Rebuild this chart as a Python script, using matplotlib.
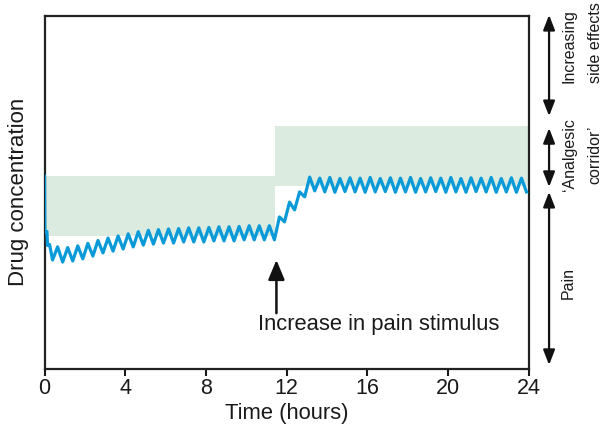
import numpy as np
import matplotlib
matplotlib.use("Agg")
import matplotlib.pyplot as plt

plt.rcParams['font.family'] = ['Liberation Sans', 'DejaVu Sans']

# analgesic corridor (green band), steps up when pain stimulus increases
band_x = [0, 11.45, 24]
band_low = [37.6, 51.8]
band_high = [54.6, 68.8]

# first few minutes after the loading dose
start_t = [0.0, 0.02, 0.12, 0.15, 0.25]
start_c = [54.6, 38.6, 38.9, 34.9, 35.2]

# trough / peak values, every quarter hour from 0.4 h
conc = [
    30.8, 34.5, 30.2, 34.3, 30.5, 34.8, 31.1, 35.5, 31.9, 36.3,
    32.8, 37.0, 33.3, 37.6, 33.9, 38.2, 34.5, 38.8, 35.0, 39.2,
    35.3, 39.4, 35.6, 39.6, 35.6, 39.7, 35.9, 39.9, 35.9, 39.9,
    35.9, 40.0, 36.2, 40.2, 36.2, 40.2, 36.2, 40.3, 36.5, 40.5,
    36.5, 40.5, 36.5, 40.5, 36.5,
    43.0, 41.6, 47.2, 45.0, 50.1, 48.7, 54.3, 50.4,
    54.0, 50.1, 54.2, 50.0, 53.9, 50.2, 54.1, 50.1, 54.0, 50.0,
    54.2, 50.1, 53.9, 50.2, 54.1, 50.0, 54.0, 50.1, 54.2, 50.0,
    53.9, 50.1, 54.1, 50.2, 54.0, 50.0, 54.2, 50.1, 53.9, 50.0,
    54.1, 50.2, 54.0, 50.1, 54.2, 50.0, 53.9, 50.1, 54.1, 50.0,
    54.0, 50.1,
]
dose_t = 0.4 + 0.25 * np.arange(len(conc))

t = np.concatenate([start_t, dose_t])
c = np.concatenate([start_c, conc])

xticks = [0, 4, 8, 12, 16, 20, 24]
stimulus_t = 11.5

# side labels: (text, x, y) one line each
zone_labels = [
    ('Increasing', 26.01, 91.5),
    ('side effects', 27.30, 92.6),
    ('\u2018Analgesic', 26.01, 60.6),
    ('corridor\u2019', 27.30, 60.6),
    ('Pain', 25.96, 24.3),
]

txt = '#1a1a1a'
fig = plt.figure(figsize=(6.08, 4.25), dpi=100)
ax = fig.add_axes([44.5 / 608, 1 - 368.5 / 425, 484 / 608, 352.5 / 425])

for i in range(2):
    ax.fill_between(band_x[i:i + 2], band_low[i], band_high[i],
                    color='#dcebe0', lw=0, zorder=1)

ax.plot(t, c, color='#0a9ad8', lw=2.3, zorder=3)

ax.set_xlim(0, 24)
ax.set_ylim(0, 100)
ax.set_xticks(xticks)
ax.set_yticks([])
ax.tick_params(axis='x', direction='out', length=5, width=1.5, pad=2,
               labelsize=15.5, colors=txt)
for s in ax.spines.values():
    s.set_linewidth(1.6)
    s.set_color('#222222')

ax.set_xlabel('Time (hours)', fontsize=15.8, color=txt, labelpad=3)
ax.set_ylabel('Drug concentration', fontsize=16, color=txt)
ax.yaxis.set_label_coords(-0.032, 0.5)

# pain stimulus marker
ax.annotate('', xy=(stimulus_t, 30.8), xytext=(stimulus_t, 15.7),
            arrowprops=dict(arrowstyle='-|>,head_length=1.2,head_width=0.5',
                            lw=1.8, color='#111111', shrinkA=0, shrinkB=0,
                            mutation_scale=10))
ax.text(16.59, 12.6, 'Increase in pain stimulus', ha='center', va='center',
        fontsize=15.8, color=txt)

# zone arrows on the right
arr = dict(arrowstyle='<|-|>,head_length=0.9,head_width=0.35', lw=1.6,
           color='#111111', shrinkA=0, shrinkB=0, mutation_scale=10)
for y0, y1 in [(100.3, 71.6), (68.2, 51.5), (50.1, 1.0)]:
    ax.annotate('', xy=(25.02, y0), xytext=(25.02, y1), arrowprops=arr,
                annotation_clip=False)

for s, x, y in zone_labels:
    ax.text(x, y, s, rotation=90, ha='center', va='center', fontsize=11.5,
            color=txt, clip_on=False)

fig.savefig('out.png', dpi=100)
